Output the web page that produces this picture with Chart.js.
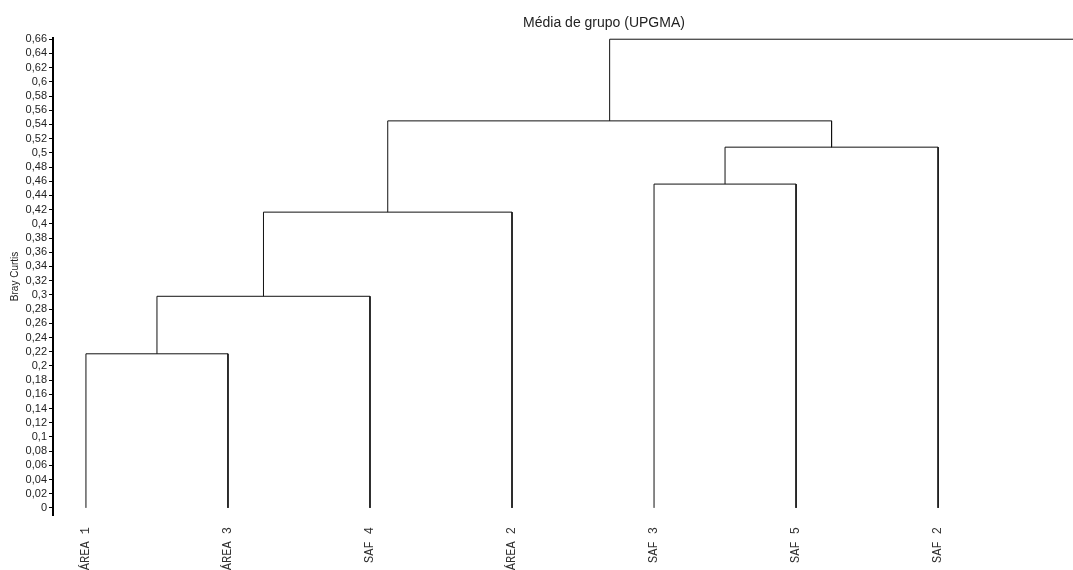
<!DOCTYPE html>
<html>
<head>
<meta charset="utf-8">
<script src="https://cdn.jsdelivr.net/npm/chart.js@4/dist/chart.umd.min.js"></script>
<style>
  html, body { margin: 0; padding: 0; background: #fff; }
  #wrap { width: 1073px; height: 570px; }
</style>
</head>
<body>
<div id="wrap"><canvas id="dendro"></canvas></div>
<script>
// folhas (ordem no eixo x)
const leaves = ['ÁREA 1', 'ÁREA 3', 'SAF 4', 'ÁREA 2', 'SAF 3', 'SAF 5', 'SAF 2'];
// fusões: nó A + nó B na altura h (nós 0-6 = folhas, 7.. = fusões)
const mergeA = [0, 7, 8, 4, 10, 9];
const mergeB = [1, 2, 3, 5, 6, 11];
const mergeHeight = [0.217, 0.298, 0.4165, 0.456, 0.508, 0.545];
const rootHeight = 0.66;
const yTicks = [];
for (let i = 0; i <= 33; i++) yTicks.push(i * 0.02);

const X_MIN = -0.232, X_MAX = 6.95;

function buildSegments() {
    const nodeX = leaves.map((l, i) => i);
    const nodeY = leaves.map(() => 0);
    const segs = [];
    for (let k = 0; k < mergeA.length; k++) {
        const a = mergeA[k], b = mergeB[k], h = mergeHeight[k];
        segs.push([
            {x: nodeX[a], y: nodeY[a]},
            {x: nodeX[a], y: h},
            {x: nodeX[b], y: h},
            {x: nodeX[b], y: nodeY[b]}
        ]);
        nodeX.push((nodeX[a] + nodeX[b]) / 2);
        nodeY.push(h);
    }
    const top = nodeX.length - 1;
    segs.push([
        {x: nodeX[top], y: nodeY[top]},
        {x: nodeX[top], y: rootHeight},
        {x: X_MAX, y: rootHeight}
    ]);
    return segs;
}

const datasets = buildSegments().map(pts => ({
    data: pts,
    showLine: true,
    borderColor: '#111',
    borderWidth: 1,
    pointRadius: 0,
    fill: false,
    tension: 0
}));

// título desenhado à mão pra ficar na mesma posição do original
const tituloPlugin = {
    id: 'tituloPlugin',
    afterDraw(chart) {
        const ctx = chart.ctx;
        ctx.save();
        ctx.font = '14px "Liberation Sans", Arial';
        ctx.fillStyle = '#222';
        ctx.textAlign = 'center';
        ctx.textBaseline = 'middle';
        ctx.fillText('Média de grupo (UPGMA)', 604, 23);
        ctx.restore();
    }
};

new Chart(document.getElementById('dendro'), {
    type: 'scatter',
    data: { datasets: datasets },
    options: {
        responsive: true,
        maintainAspectRatio: false,
        animation: false,
        layout: { padding: 0 },
        plugins: {
            legend: { display: false },
            tooltip: { enabled: false },
            title: {
                display: true,
                text: 'Média de grupo (UPGMA)',
                color: 'rgba(0,0,0,0)',
                font: { family: 'Liberation Sans, Arial', size: 14, weight: 'normal' },
                padding: { top: 15, bottom: 6 }
            }
        },
        scales: {
            x: {
                type: 'linear',
                min: X_MIN,
                max: X_MAX,
                border: { display: false },
                grid: { display: false },
                afterBuildTicks: s => { s.ticks = leaves.map((l, i) => ({ value: i })); },
                afterFit: s => { s.height = 55; },
                ticks: {
                    autoSkip: false,
                    minRotation: 90,
                    maxRotation: 90,
                    padding: 4,
                    color: '#333',
                    font: { family: 'Liberation Mono, Courier New, monospace', size: 12 },
                    callback: v => leaves[v] || ''
                }
            },
            y: {
                min: -0.01,
                max: 0.662,
                border: { display: true, color: '#000', width: 2 },
                grid: { display: true, drawOnChartArea: false, tickLength: 4, color: '#000' },
                afterBuildTicks: s => { s.ticks = yTicks.map(v => ({ value: v })); },
                afterFit: s => { s.width = 53; },
                title: {
                    display: true,
                    text: 'Bray Curtis',
                    color: '#222',
                    font: { family: 'Liberation Sans, Arial', size: 10 },
                    padding: { top: 9, bottom: 0 }
                },
                ticks: {
                    autoSkip: false,
                    padding: 2,
                    color: '#222',
                    font: { family: 'Liberation Sans, Arial', size: 11 },
                    callback: v => {
                        const r = Math.round(v * 100) / 100;
                        return String(r).replace('.', ',');
                    }
                }
            }
        }
    },
    plugins: [tituloPlugin]
});
</script>
</body>
</html>
